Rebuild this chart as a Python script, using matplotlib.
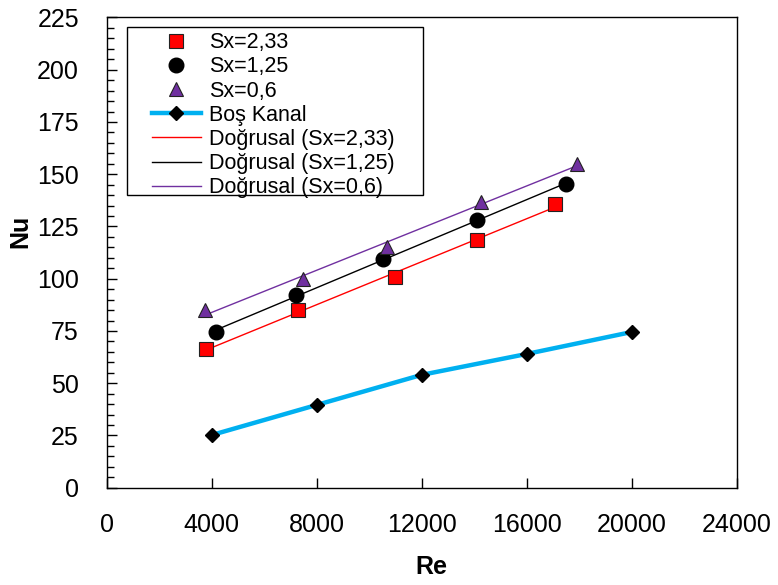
import numpy as np
import matplotlib
matplotlib.use('Agg')
import matplotlib.pyplot as plt
from matplotlib.lines import Line2D
from matplotlib.patches import Rectangle

# data
re_233 = [3770, 7300, 10980, 14120, 17080]
nu_233 = [66.2, 85.0, 100.7, 118.5, 135.6]
re_125 = [4150, 7210, 10510, 14100, 17500]
nu_125 = [74.6, 92.2, 109.3, 128.1, 145.2]
re_06 = [3750, 7490, 10690, 14260, 17900]
nu_06 = [84.9, 99.7, 115.2, 136.6, 154.9]
re_bos = [4000, 8000, 12000, 16000, 20000]
nu_bos = [25.2, 39.6, 54.0, 64.0, 74.5]

plt.rcParams['font.family'] = ['Liberation Sans', 'DejaVu Sans']

purple = '#7030A0'
cyan = '#00B0F0'

fig = plt.figure(figsize=(7.78, 5.85), dpi=100)
ax = fig.add_axes([0.1371, 0.1663, 0.8098, 0.8038])

def trend(x, y):
    k, b = np.polyfit(x, y, 1)
    xs = np.array([min(x), max(x)])
    return xs, k*xs + b

# trend lines
for x, y, c in [(re_233, nu_233, 'red'), (re_125, nu_125, 'black'), (re_06, nu_06, purple)]:
    xs, ys = trend(x, y)
    ax.plot(xs, ys, color=c, lw=1, zorder=2)

ax.plot(re_bos, nu_bos, color=cyan, lw=3.2, zorder=3)
ax.plot(re_bos, nu_bos, ls='none', marker='D', ms=7, color='black', zorder=4)

ax.plot(re_233, nu_233, ls='none', marker='s', ms=9.5, mfc='red', mec='#222222', mew=0.8, zorder=5)
ax.plot(re_125, nu_125, ls='none', marker='o', ms=10.5, mfc='black', mec='black', zorder=5)
ax.plot(re_06, nu_06, ls='none', marker='^', ms=10, mfc=purple, mec='#222222', mew=0.8, zorder=5)

ax.set_xlim(0, 24000)
ax.set_ylim(0, 225)
ax.set_xticks(np.arange(0, 24001, 4000))
ax.set_yticks(np.arange(0, 226, 25))
ax.set_yticks(np.arange(0, 226, 5), minor=True)
ax.tick_params(axis='both', which='both', direction='in', width=1)
ax.tick_params(axis='both', which='major', length=7, labelsize=18)
ax.tick_params(axis='y', which='minor', length=5)
ax.tick_params(axis='x', which='major', pad=18)
ax.tick_params(axis='y', which='major', pad=20)
for s in ax.spines.values():
    s.set_linewidth(1)

ax.set_xlabel('Re', fontsize=18, fontweight='bold', va='center')
ax.set_ylabel('Nu', fontsize=18, fontweight='bold', ha='center', va='center')
ax.xaxis.set_label_coords(0.516, -0.169)
ax.yaxis.set_label_coords(-0.1376, 0.546)

handles = [
    Line2D([], [], ls='none', marker='s', ms=9.5, mfc='red', mec='#222222', mew=0.8),
    Line2D([], [], ls='none', marker='o', ms=10.5, mfc='black', mec='black'),
    Line2D([], [], ls='none', marker='^', ms=10, mfc=purple, mec='#222222', mew=0.8),
    Line2D([], [], color=cyan, lw=3.2, marker='D', ms=7, mfc='black', mec='black'),
    Line2D([], [], color='red', lw=1),
    Line2D([], [], color='black', lw=1),
    Line2D([], [], color=purple, lw=1),
]
labels = ['Sx=2,33', 'Sx=1,25', 'Sx=0,6', 'Boş Kanal',
          'Doğrusal (Sx=2,33)', 'Doğrusal (Sx=1,25)', 'Doğrusal (Sx=0,6)']
leg = ax.legend(handles, labels, loc='upper left', bbox_to_anchor=(0.0714, 0.969),
                fontsize=15.5, frameon=False,
                handlelength=2.3, handletextpad=0.35, labelspacing=0.15,
                borderpad=0, borderaxespad=0)
ax.add_patch(Rectangle((0.0322, 0.6225), 0.4698, 0.3575, transform=ax.transAxes,
                       fill=True, facecolor='white', edgecolor='black', lw=1, zorder=6))
leg.set_zorder(7)

fig.savefig('out.png', dpi=100)
